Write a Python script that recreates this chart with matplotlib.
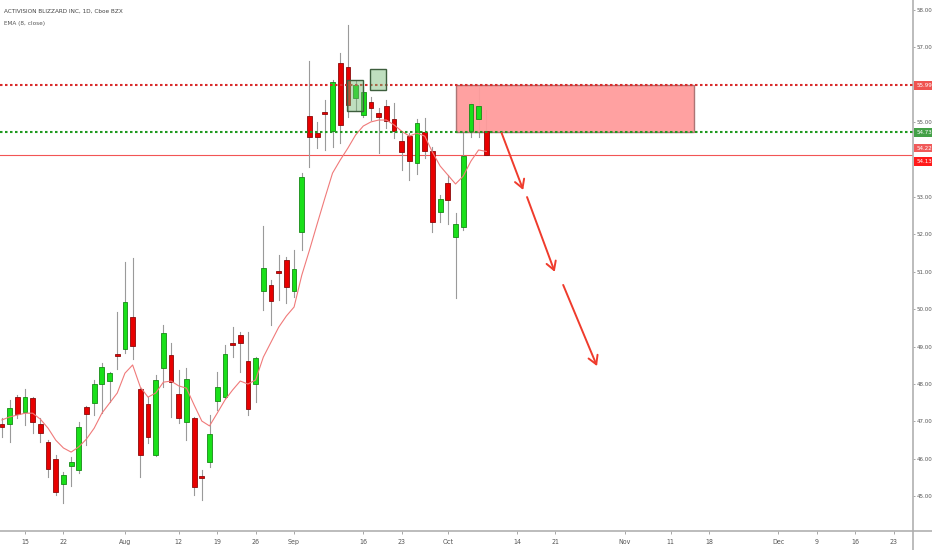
import numpy as np
import matplotlib
matplotlib.use("Agg")
import matplotlib.pyplot as plt
from matplotlib.patches import Rectangle
from matplotlib.lines import Line2D

plt.rcParams['font.family'] = ['DejaVu Sans']
plt.rcParams['font.stretch'] = 'condensed'

## daily candles, ATVI Jul 10 - Oct 8 2019, x = trading day index (0 = Jul 15)
bar_idx = list(range(-3, 61))
opens = [46.93, 46.93, 47.65, 47.25, 47.63, 46.93, 46.45, 45.99, 45.33, 45.81,
         45.70, 47.39, 47.49, 48.00, 48.08, 48.80, 48.94, 49.79, 47.87, 47.47,
         46.10, 48.43, 48.78, 47.73, 46.98, 47.09, 45.53, 45.91, 47.55, 47.65,
         49.10, 49.31, 48.61, 48.00, 50.49, 50.65, 51.00, 51.32, 50.49, 52.06,
         55.17, 54.71, 55.27, 54.76, 56.58, 56.48, 55.65, 55.19, 55.54, 55.25,
         55.43, 55.09, 54.50, 54.63, 53.91, 54.74, 54.23, 52.60, 53.37, 51.93,
         52.20, 54.76, 55.09, 54.76]
highs = [47.09, 47.57, 47.70, 47.87, 47.65, 47.09, 46.50, 46.10, 45.65, 46.05,
         46.98, 47.42, 48.10, 48.56, 48.32, 49.93, 51.26, 51.37, 47.90, 47.65,
         48.24, 49.58, 49.10, 48.37, 48.43, 47.12, 45.70, 47.17, 48.32, 49.04,
         49.52, 49.39, 49.39, 48.72, 52.22, 50.78, 51.45, 51.40, 51.58, 53.64,
         56.64, 55.00, 55.59, 56.13, 56.85, 57.60, 56.10, 55.94, 55.67, 55.38,
         55.59, 55.51, 54.71, 54.71, 55.09, 55.11, 54.34, 53.05, 53.59, 52.57,
         54.71, 55.54, 55.94, 55.33]
lows = [46.58, 46.45, 47.09, 46.90, 46.69, 46.45, 45.51, 45.03, 44.82, 45.27,
        45.62, 46.37, 47.17, 47.22, 47.52, 48.40, 48.83, 48.67, 45.51, 46.42,
        46.08, 47.92, 47.12, 46.96, 46.50, 45.03, 44.90, 45.78, 47.30, 47.63,
        48.72, 48.32, 47.17, 47.52, 49.98, 49.58, 50.25, 50.17, 50.33, 51.58,
        53.80, 54.31, 54.26, 54.34, 54.44, 55.14, 55.33, 55.14, 55.06, 54.18,
        54.85, 54.58, 53.72, 53.45, 53.61, 54.04, 52.06, 52.33, 52.28, 50.30,
        52.12, 54.60, 54.60, 54.13]
closes = [46.85, 47.36, 47.20, 47.65, 46.98, 46.69, 45.73, 45.11, 45.57, 45.91,
          46.85, 47.20, 48.00, 48.45, 48.29, 48.75, 50.19, 49.02, 46.10, 46.58,
          48.11, 49.36, 48.05, 47.09, 48.13, 45.25, 45.49, 46.66, 47.92, 48.80,
          49.04, 49.10, 47.33, 48.70, 51.10, 50.22, 50.97, 50.59, 51.07, 53.53,
          54.60, 54.60, 55.22, 56.07, 54.93, 55.46, 55.99, 55.81, 55.38, 55.14,
          55.03, 54.76, 54.20, 53.96, 54.98, 54.23, 52.33, 52.95, 52.92, 52.28,
          54.10, 55.49, 55.43, 54.13]
## EMA(8, close)
ema8 = [47.04, 47.12, 47.17, 47.22, 47.22, 47.06, 46.82, 46.50, 46.29, 46.18,
        46.32, 46.53, 46.82, 47.22, 47.49, 47.76, 48.29, 48.51, 47.92, 47.65,
        47.76, 48.05, 48.08, 47.95, 47.89, 47.44, 47.01, 46.88, 47.22, 47.57,
        47.84, 48.08, 48.00, 48.11, 48.72, 49.12, 49.52, 49.82, 50.06, 50.91,
        51.58, 52.28, 52.97, 53.64, 53.99, 54.31, 54.66, 54.90, 55.01, 55.06,
        55.06, 54.93, 54.76, 54.63, 54.71, 54.63, 54.20, 53.83, 53.59, 53.35,
        53.56, 53.96, 54.26, 54.22]

date_ticks = [0, 5, 13, 20, 25, 30, 35, 44, 49, 55, 64, 69, 78, 84, 89, 98, 103, 108, 113]
date_labels = ['15', '22', 'Aug', '12', '19', '26', 'Sep', '16', '23', 'Oct',
               '14', '21', 'Nov', '11', '18', 'Dec', '9', '16', '23']
# 56 and 54 are hidden behind the price labels on the scale
price_ticks = [45, 46, 47, 48, 49, 50, 51, 52, 53, 55, 57, 58]

resistance = 55.99
support = 54.73
last_close = 54.13
last_ema = 54.22

## drawings on the chart
zone_red = (56, 87, 54.73, 55.99)          # x0, x1, y0, y1
zones_green = [(41.9, 44.0, 55.30, 56.13), (44.9, 47.0, 55.86, 56.42)]
arrows = [((62.0, 54.71), (64.8, 53.19)),
          ((65.3, 53.00), (68.9, 51.00)),
          ((70.0, 50.65), (74.4, 48.48))]

fig = plt.figure(figsize=(9.32, 5.5), dpi=100)
ax = fig.add_axes([0, 19 / 550, 913 / 932, 531 / 550])
ax.set_xlim(-3.25, 115.5)
ax.set_ylim(44.07, 58.27)

grey = '#9a9a9a'
txt = '#555555'
w = 0.62
for x, o, h, l, c in zip(bar_idx, opens, highs, lows, closes):
    up = c >= o
    ax.plot([x, x], [l, h], color=grey, lw=0.8, zorder=2)
    fc = '#19e019' if up else '#e80000'
    ec = '#178a17' if up else '#8a0b0b'
    lo, hi = min(o, c), max(o, c)
    ax.add_patch(Rectangle((x - w / 2, lo), w, max(hi - lo, 0.04),
                           fc=fc, ec=ec, lw=0.6, zorder=3))

ax.plot(bar_idx, ema8, color='#f07a7a', lw=0.8, zorder=4)

ax.axhline(resistance, color='#d92b2b', lw=1.5, ls=(0, (1.2, 1.2)), zorder=5)
ax.axhline(support, color='#1f9a1f', lw=1.5, ls=(0, (1.2, 1.2)), zorder=5)
ax.axhline(last_close, color='#f25555', lw=0.8, zorder=1)

x0, x1, y0, y1 = zone_red
ax.add_patch(Rectangle((x0, y0), x1 - x0, y1 - y0, fc='#ff9c9c', ec='#a87070',
                       lw=1.0, alpha=0.95, zorder=2.5))
for gx0, gx1, gy0, gy1 in zones_green:
    ax.add_patch(Rectangle((gx0, gy0), gx1 - gx0, gy1 - gy0,
                           fc=(0.45, 0.72, 0.45, 0.45), ec='#3d5e3d', lw=1.0, zorder=6))

for (sx, sy), (ex, ey) in arrows:
    ax.annotate('', xy=(ex, ey), xytext=(sx, sy),
                arrowprops=dict(arrowstyle='->,head_length=0.6,head_width=0.35',
                                color='#ef3b2c', lw=1.4, shrinkA=0, shrinkB=0), zorder=7)

## axes styling
for s in ['top', 'left']:
    ax.spines[s].set_visible(False)
ax.spines['right'].set_color('#b0b0b0')
ax.spines['bottom'].set_color('#b0b0b0')
ax.spines['right'].set_linewidth(1.2)
ax.spines['bottom'].set_linewidth(1.2)
ax.yaxis.tick_right()
ax.set_yticks(price_ticks)
ax.set_yticklabels(['%.2f' % p for p in price_ticks])
ax.set_xticks(date_ticks)
ax.set_xticklabels(date_labels)
ax.tick_params(axis='both', colors='#999999', labelcolor=txt, labelsize=4.4,
               length=1.5, width=0.6, pad=0.8)
ax.tick_params(axis='x', labelsize=5, length=2, pad=3.5)

## price labels on the scale
for price, shown, col in [(resistance, resistance, '#ef5350'),
                          (support, support, '#43a047'),
                          (last_ema, 54.31, '#f05a5a'),
                          (last_close, 53.95, '#ff1a1a')]:
    ax.text(1.0035, shown, '%.2f' % price, transform=ax.get_yaxis_transform(),
            ha='left', va='center', fontsize=4.4, color='white', clip_on=False,
            bbox=dict(boxstyle='square,pad=0.3', fc=col, ec='none'), zorder=10)

## scale lines outside the axes
fig.add_artist(Line2D([913 / 932, 1], [19 / 550, 19 / 550], color='#b0b0b0', lw=1.2))
fig.add_artist(Line2D([913 / 932, 913 / 932], [0, 19 / 550], color='#b0b0b0', lw=1.2))

fig.text(4 / 932, 1 - 11 / 550, 'ACTIVISION BLIZZARD INC, 1D, Cboe BZX',
         fontsize=4.6, color='#444444', va='center')
fig.text(4 / 932, 1 - 24 / 550, 'EMA (8, close)', fontsize=4.6, color='#555555', va='center')

fig.savefig('out.png', dpi=100, facecolor='white')
